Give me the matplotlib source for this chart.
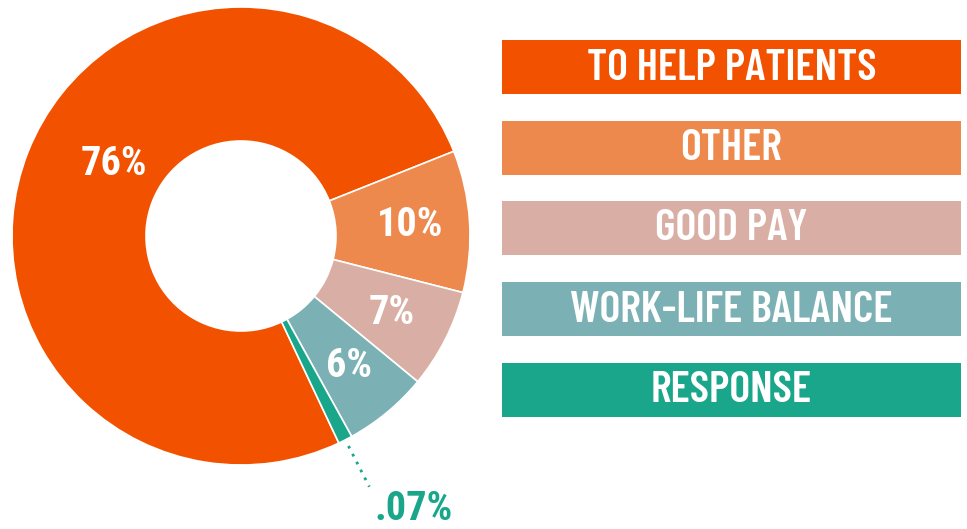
import numpy as np
import matplotlib
matplotlib.use('Agg')
import matplotlib.pyplot as plt

# data
categories = ['TO HELP PATIENTS', 'OTHER', 'GOOD PAY', 'WORK-LIFE BALANCE', 'RESPONSE']
shares = [76, 10, 7, 6, 1]
pct_labels = ['76%', '10%', '7%', '6%', '.07%']
colors = ['#F25200', '#EE894D', '#D9AFA5', '#7BB1B4', '#19A68B']

plt.rcParams['font.family'] = ['Roboto Condensed', 'DejaVu Sans']

W, H = 967, 529
fig = plt.figure(figsize=(W/100, H/100), dpi=100)

# donut
cx, cy, R = 241, 236, 229
ax = fig.add_axes([(cx-R)/W, (H-cy-R)/H, 2*R/W, 2*R/H])
wedges, _ = ax.pie(shares, colors=colors, startangle=295.3, counterclock=False,
                   radius=1.0, wedgeprops=dict(width=1-95/229, edgecolor='white', linewidth=1.2))
ax.set_xlim(-1, 1)
ax.set_ylim(-1, 1)
ax.set_aspect('equal')
ax.axis('off')

for i, w in enumerate(wedges[:4]):
    mid = np.deg2rad((w.theta1 + w.theta2) / 2)
    r = 0.74
    if i == 0:
        mid = mid - np.deg2rad(8)
        r = 0.64
    ax.text(r*np.cos(mid), r*np.sin(mid), pct_labels[i], color='white',
            fontsize=29, fontweight='bold', ha='center', va='center')

# tiny slice callout
w = wedges[4]
mid = np.deg2rad((w.theta1 + w.theta2) / 2)
ax.plot([1.03*np.cos(mid), 1.23*np.cos(mid)], [1.03*np.sin(mid), 1.23*np.sin(mid)],
        ls=(0, (1, 2.2)), lw=2, color=colors[4], clip_on=False)
ax.text(0.755, -1.19, pct_labels[4], color=colors[4], fontsize=29, fontweight='bold',
        ha='center', va='center', clip_on=False)

# legend bars
ax2 = fig.add_axes([0, 0, 1, 1])
ax2.set_xlim(0, W)
ax2.set_ylim(H, 0)
ax2.axis('off')
ypos = [67, 148, 228, 309, 390]
ax2.barh(ypos, [459]*5, left=502, height=54, color=colors)
for y, lab in zip(ypos, categories):
    ax2.text(731.5, y+1, lab, color='white', fontsize=32, fontweight=600,
             family=['Barlow Condensed', 'Roboto Condensed'], ha='center', va='center')

fig.savefig('out.png', dpi=100)
